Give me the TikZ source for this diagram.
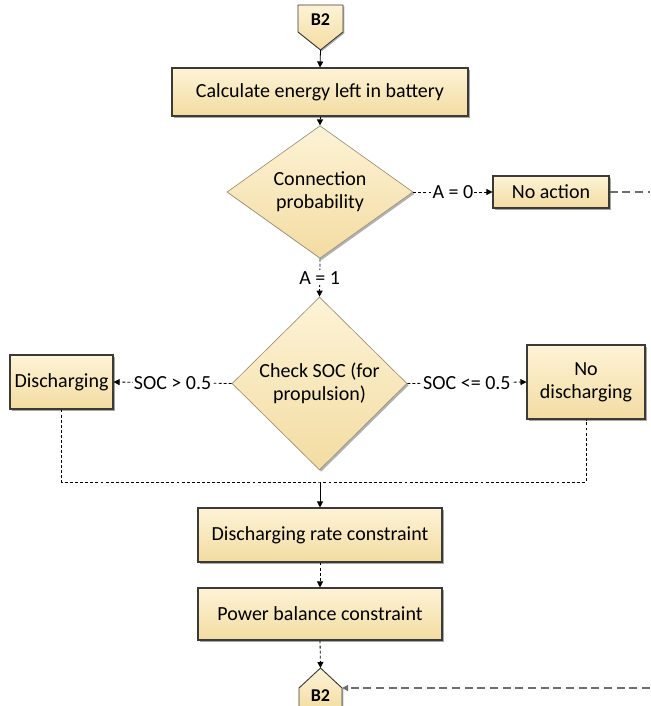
\documentclass[tikz,border=0pt]{standalone}
\usepackage{fontspec}
\setmainfont{Carlito}
\usetikzlibrary{shapes.geometric,arrows.meta,shadows}
\definecolor{boxtop}{HTML}{FDF3D6}
\definecolor{boxbot}{HTML}{F3DCA2}
\definecolor{boxline}{HTML}{3C3A36}
\definecolor{diaedge}{HTML}{9C927A}
\definecolor{longdash}{HTML}{6E6E6E}
\begin{document}
\begin{tikzpicture}[x=0.75pt,y=-0.75pt,
  txt/.style={font=\fontsize{15}{17}\selectfont},
  procbox/.style={rectangle, draw=boxline, line width=0.8pt, top color=boxtop, bottom color=boxbot,
    inner sep=0pt, align=center, txt,
    drop shadow={shadow xshift=1.3pt, shadow yshift=-1.3pt, fill=black, opacity=0.35}},
  decision/.style={diamond, draw=diaedge, line width=0.5pt, top color=boxtop, bottom color=boxbot,
    inner sep=0pt, align=center, txt,
    drop shadow={shadow xshift=1.3pt, shadow yshift=-1.3pt, fill=black, opacity=0.3}},
  pent/.style={draw=boxline, line width=0.7pt, top color=boxtop, bottom color=boxbot,
    drop shadow={shadow xshift=1pt, shadow yshift=-1pt, fill=black, opacity=0.3}},
  tip/.style={-{Triangle[length=4.5pt,width=4.5pt]}},
  conn/.style={tip, line width=0.6pt, black},
  dconn/.style={conn, dash pattern=on 2.2pt off 1.6pt},
  dline/.style={line width=0.6pt, black, dash pattern=on 2.2pt off 1.6pt},
  gline/.style={line width=0.9pt, longdash, dash pattern=on 6pt off 3.5pt},
  lbl/.style={fill=white, inner sep=0.8pt, txt}]
\useasboundingbox (0,0) rectangle (650,706);

% top connector B2
\path[pent] (298,5) -- (343,5) -- (343,32) -- (320.5,50) -- (298,32) -- cycle;
\node[font=\fontsize{13.5}{15}\selectfont\bfseries] (b2top) at (320.5,20) {B2};
\coordinate (b2tip) at (320.5,50);

\node[procbox, minimum width=222pt, minimum height=36pt] (calc) at (320,92) {Calculate energy left in battery};
\node[decision, minimum width=139.5pt, minimum height=76.5pt] (d1) at (320,192) {Connection\\probability};
\node[procbox, minimum width=87pt, minimum height=24pt] (noact) at (551,192) {No action};
\coordinate (exitR) at (650,192);

\node[decision, minimum width=131.25pt, minimum height=129.75pt] (d2) at (319.5,383.5) {Check SOC (for\\propulsion)};
\node[procbox, minimum width=77.25pt, minimum height=40.5pt] (disch) at (61.5,382) {Discharging};
\node[procbox, minimum width=88.5pt, minimum height=55.5pt] (nodisch) at (586,382) {No\\discharging};
\coordinate (merge) at (320,482);

\node[procbox, minimum width=183pt, minimum height=40.5pt] (rate) at (320,535) {Discharging rate constraint};
\node[procbox, minimum width=183pt, minimum height=39pt] (power) at (320,614) {Power balance constraint};

% bottom connector B2
\path[pent] (320.5,668) -- (342,688) -- (342,712) -- (299,712) -- (299,688) -- cycle;
\node[font=\fontsize{13.5}{15}\selectfont\bfseries] (b2bot) at (320.5,696) {B2};
\coordinate (b2apex) at (320.5,668);
\coordinate (b2right) at (342,688);
\coordinate (entryR) at (650,688);

% connectors
\draw[conn] (b2tip) -- (calc.north);
\draw[dconn] (calc.south) -- (d1.north);
\draw[dconn] (d1.east) -- node[lbl] {A = 0} (noact.west);
\draw[gline] (noact.east) -- (exitR);
\draw[dconn] (d1.south) -- node[lbl] {A = 1} (d2.north);
\draw[dconn] (d2.west) -- node[lbl] {SOC > 0.5} (disch.east);
\draw[dconn] (d2.east) -- node[lbl] {SOC <= 0.5} (nodisch.west);
\draw[dline] (disch.south) |- (merge) -| (nodisch.south);
\draw[conn] (merge) -- (rate.north);
\draw[dconn] (rate.south) -- (power.north);
\draw[dconn] (power.south) -- (b2apex);
\draw[gline, tip] (entryR) -- (b2right);
\end{tikzpicture}
\end{document}
